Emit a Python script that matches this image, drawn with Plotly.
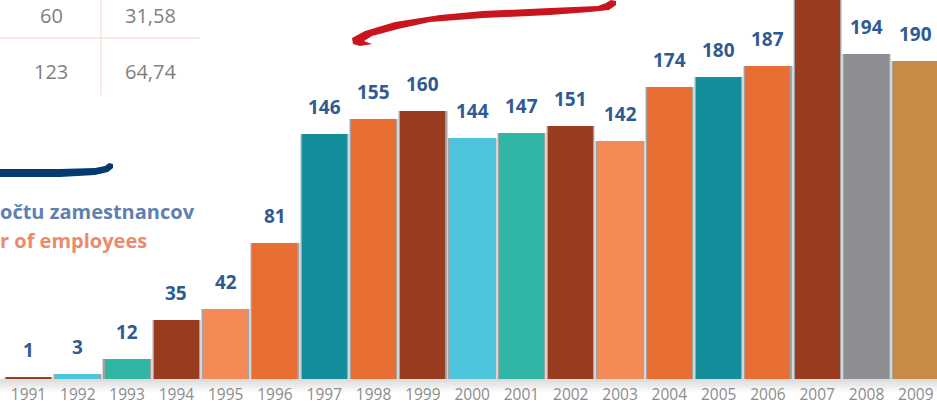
import plotly.graph_objects as go

# ---- data ----
years = [1991, 1992, 1993, 1994, 1995, 1996, 1997, 1998, 1999, 2000,
         2001, 2002, 2003, 2004, 2005, 2006, 2007, 2008, 2009]
year_labels = ["1991", "1992", "1993", "1994", "1995", "1996", "1997", "1998", "1999", "2000",
               "2001", "2002", "2003", "2004", "2005", "2006", "2007", "2008", "2009"]
employees = [1, 3, 12, 35, 42, 81, 146, 155, 160, 144, 147, 151, 142, 174, 180, 187, 230, 194, 190]
bar_colors = ["#9A3B1F", "#4EC4DC", "#2FB6A5", "#993C20", "#F68A56", "#E86E33", "#148E9A",
              "#E86E33", "#993C20", "#4EC4DC", "#2FB6A5", "#993C20", "#F68A56", "#E86E33",
              "#148E9A", "#E86E33", "#993C20", "#8D8E92", "#C88B47"]
table_rows = [["60", "31,58"], ["123", "64,74"]]
title_sk = "očtu zamestnancov"
title_en = "r of employees"

W, H = 937, 405
PLOT_BOTTOM = 379  # px


def P(x, y):
    return x / W, (PLOT_BOTTOM - y) / PLOT_BOTTOM


def path_from(points):
    pts = [P(x, y) for x, y in points]
    return "M " + " L ".join(f"{a:.5f},{b:.5f}" for a, b in pts) + " Z"


fig = go.Figure()

# soft shadows behind bars
fig.add_trace(go.Bar(x=years, y=employees, width=1.0,
                     marker=dict(color="rgba(70,70,70,0.22)", line=dict(width=0)),
                     hoverinfo="skip", showlegend=False))
fig.add_trace(go.Bar(x=years, y=employees, width=0.96,
                     marker=dict(color="rgba(70,70,70,0.35)", line=dict(width=0)),
                     hoverinfo="skip", showlegend=False))
# main bars
fig.add_trace(go.Bar(x=years, y=employees, width=0.913,
                     marker=dict(color=bar_colors, line=dict(width=0)),
                     showlegend=False))

annotations = []
for yr, v in zip(years, employees):
    annotations.append(dict(x=yr, y=v, xref="x", yref="y", text=f"<b>{v}</b>",
                            showarrow=False, yanchor="middle", yshift=27,
                            font=dict(family="Open Sans", size=19, color="#2F5B92")))

# table texts (top-anchored rows)
tx = [51, 150]
ty = [0, 56]
for r, row in enumerate(table_rows):
    for c, val in enumerate(row):
        px_, py_ = P(tx[c], ty[r])
        annotations.append(dict(x=px_, y=py_, xref="paper", yref="paper", text=val,
                                showarrow=False, xanchor="center", yanchor="top",
                                font=dict(family="Open Sans", size=20, color="#808080")))

# left titles
_, y1 = P(0, 211)
_, y2 = P(0, 240)
annotations.append(dict(x=0, y=y1, xref="paper", yref="paper", text=f"<b>{title_sk}</b>",
                        showarrow=False, xanchor="left", yanchor="middle", xshift=-2,
                        font=dict(family="Open Sans", size=20, color="#5F80B2")))
annotations.append(dict(x=0, y=y2, xref="paper", yref="paper", text=f"<b>{title_en}</b>",
                        showarrow=False, xanchor="left", yanchor="middle", xshift=-2,
                        font=dict(family="Open Sans", size=20, color="#EC8A6B")))

shapes = []
# table grid lines
x0, yh = P(0, 38)
x1, _ = P(200, 38)
shapes.append(dict(type="line", xref="paper", yref="paper", x0=x0, x1=x1, y0=yh, y1=yh,
                   line=dict(color="#FBE2D8", width=1.5)))
xv, yv0 = P(101, 0)
_, yv1 = P(101, 95)
shapes.append(dict(type="line", xref="paper", yref="paper", x0=xv, x1=xv, y0=yv0, y1=yv1,
                   line=dict(color="#FBE2D8", width=1.5)))

# red brush stroke
red_pts = [(352, 38), (365, 31), (395, 22), (440, 15), (483, 11), (550, 8), (598, 6), (606, 3),
           (611, 0), (616, 1), (616, 5), (609, 10), (590, 12), (550, 15), (483, 18), (430, 22),
           (398, 29), (372, 36), (364, 41), (372, 44), (360, 46), (353, 44)]
shapes.append(dict(type="path", xref="paper", yref="paper", path=path_from(red_pts),
                   fillcolor="#C9161E", line=dict(width=0)))
# blue brush stroke
blue_pts = [(0, 169), (60, 169), (95, 168), (105, 166), (109, 163), (113, 164), (113, 168),
            (108, 172), (95, 175), (60, 177), (0, 177)]
shapes.append(dict(type="path", xref="paper", yref="paper", path=path_from(blue_pts),
                   fillcolor="#043A70", line=dict(width=0)))

# shadow beneath baseline
for i in range(8):
    _, ya = P(0, PLOT_BOTTOM + i * 1.6)
    _, yb = P(0, PLOT_BOTTOM + (i + 1) * 1.6)
    shapes.append(dict(type="rect", xref="paper", yref="paper", x0=0, x1=1, y0=yb, y1=ya,
                       fillcolor=f"rgba(90,90,90,{0.22 * (1 - i / 8):.3f})",
                       line=dict(width=0), layer="below"))

fig.update_layout(
    width=W, height=H,
    margin=dict(l=0, r=0, t=0, b=H - PLOT_BOTTOM, autoexpand=False),
    paper_bgcolor="white", plot_bgcolor="white",
    barmode="overlay", bargap=0,
    xaxis=dict(range=[years[0] - 0.578, years[0] + 18.43], showgrid=False, zeroline=False,
               showline=False, ticks="", ticklabelstandoff=4, automargin=False,
               tickmode="array", tickvals=years, ticktext=year_labels,
               tickfont=dict(family="Open Sans", size=15.5, color="#8C8C8C")),
    yaxis=dict(range=[0, 226.1], visible=False, showgrid=False, zeroline=False,
               automargin=False),
    annotations=annotations, shapes=shapes,
)

fig.write_html("out.html", config={"displayModeBar": False},
               post_script="document.body.style.margin='0';document.body.style.padding='0';"
                           "document.documentElement.style.overflow='hidden';")
